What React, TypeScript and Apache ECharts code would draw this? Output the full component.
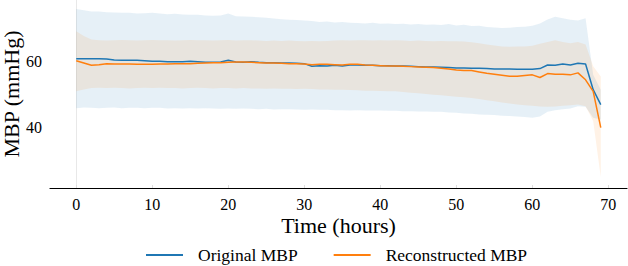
import React, { useEffect, useRef } from "react";
import * as echarts from "echarts";

const hours = [
  0, 1, 2, 3, 4, 5, 6, 7, 8, 9, 10, 11, 12, 13, 14, 15, 16, 17, 18, 19, 20, 21, 22, 23, 24, 25, 26, 27, 28, 29,
  30, 31, 32, 33, 34, 35, 36, 37, 38, 39, 40, 41, 42, 43, 44, 45, 46, 47, 48, 49, 50, 51, 52, 53, 54, 55, 56, 57,
  58, 59, 60, 61, 62, 63, 64, 65, 66, 67, 68, 69,
];

const origMean = [
  60.9, 60.9, 60.9, 60.9, 60.8, 60.5, 60.4, 60.4, 60.4, 60.3,
  60.1, 60.1, 60.0, 60.0, 60.0, 60.1, 60.0, 59.8, 59.8, 59.9,
  60.4, 59.9, 59.8, 60.0, 59.8, 59.7, 59.7, 59.6, 59.6, 59.5,
  59.4, 58.6, 58.8, 58.7, 58.9, 58.7, 59.0, 59.0, 58.9, 58.9,
  58.8, 58.8, 58.7, 58.7, 58.6, 58.5, 58.4, 58.4, 58.3, 58.2,
  58.1, 58.1, 58.0, 58.0, 57.9, 57.8, 57.8, 57.8, 57.7, 57.7,
  57.7, 57.9, 59.0, 58.9, 59.3, 59.0, 59.5, 59.3, 51.5, 47.0,
];

const reconMean = [
  60.3, 59.6, 58.9, 59.1, 59.4, 59.3, 59.3, 59.3, 59.2, 59.2,
  59.2, 59.3, 59.3, 59.4, 59.4, 59.4, 59.5, 59.6, 59.7, 59.7,
  59.8, 59.9, 59.9, 59.8, 59.7, 59.6, 59.6, 59.5, 59.4, 59.4,
  59.3, 59.1, 59.2, 59.2, 59.1, 59.0, 59.2, 59.2, 59.0, 58.9,
  58.8, 58.7, 58.7, 58.6, 58.5, 58.4, 58.3, 58.2, 58.0, 57.8,
  57.5, 57.3, 57.3, 56.9, 56.5, 56.2, 55.9, 55.6, 55.6, 55.8,
  56.0, 55.2, 56.4, 56.2, 56.2, 56.0, 56.6, 54.5, 51.0, 40.0,
];

const origUpper = [
  76.0, 75.6, 75.2, 75.2, 75.0, 74.9, 74.8, 74.8, 74.6, 74.7,
  74.8, 74.6, 74.4, 74.5, 74.3, 74.2, 74.2, 74.0, 73.9, 74.0,
  74.6, 73.8, 73.7, 73.6, 73.5, 73.3, 73.1, 72.9, 72.7, 72.6,
  72.5, 72.3, 72.0, 72.2, 71.9, 72.0, 71.8, 71.7, 71.6, 71.8,
  71.5, 71.6, 71.4, 71.5, 71.3, 71.4, 71.2, 71.3, 71.1, 71.4,
  71.0, 71.2, 70.8, 70.9, 70.5, 70.4, 70.2, 70.3, 70.5, 70.6,
  70.9, 71.6, 72.8, 73.6, 73.2, 72.7, 72.5, 73.2, 56.0, 51.5,
];

const origLower = [
  45.9, 46.1, 46.0, 45.9, 46.0, 46.1, 45.9, 46.0, 46.0, 45.9,
  46.0, 46.0, 45.8, 45.9, 45.8, 45.9, 45.8, 45.9, 45.8, 45.7,
  45.8, 45.7, 45.8, 45.7, 45.6, 45.7, 45.5, 45.6, 45.6, 45.5,
  45.4, 45.5, 45.4, 45.4, 45.3, 45.3, 45.2, 45.3, 45.2, 45.2,
  45.2, 45.1, 45.1, 45.0, 45.0, 44.9, 44.9, 44.8, 44.8, 44.6,
  44.5, 44.3, 44.2, 44.0, 43.9, 43.8, 43.6, 43.5, 43.4, 43.2,
  43.0, 43.4, 44.8, 45.3, 45.6, 45.8, 46.5, 46.3, 43.0, 42.5,
];

const reconUpper = [
  69.2, 67.8, 66.7, 66.5, 66.4, 66.5, 66.6, 66.5, 66.4, 66.5,
  66.6, 66.5, 66.5, 66.4, 66.5, 66.6, 66.5, 66.5, 66.4, 66.5,
  66.6, 66.4, 66.5, 66.5, 66.4, 66.3, 66.4, 66.3, 66.4, 66.3,
  66.2, 66.3, 66.2, 66.3, 66.4, 66.5, 66.4, 66.5, 66.5, 66.4,
  66.5, 66.4, 66.5, 66.4, 66.3, 66.4, 66.3, 66.2, 66.3, 66.2,
  66.2, 66.1, 65.9, 65.6, 65.2, 64.9, 64.6, 64.5, 64.6, 64.6,
  64.8, 65.4, 66.0, 66.5, 66.0, 65.6, 66.0, 65.2, 58.6, 55.5,
];

const reconLower = [
  51.0, 51.6, 52.0, 52.1, 52.0, 52.1, 52.0, 51.9, 52.0, 52.1,
  52.0, 52.1, 52.0, 52.0, 51.9, 52.0, 52.1, 52.0, 51.9, 52.0,
  52.0, 51.9, 52.0, 51.9, 51.9, 51.8, 51.9, 51.8, 51.8, 51.7,
  51.8, 51.7, 51.6, 51.6, 51.5, 51.5, 51.4, 51.3, 51.2, 51.2,
  51.1, 51.0, 51.0, 50.8, 50.6, 50.4, 50.2, 50.0, 49.8, 49.6,
  49.4, 49.2, 49.0, 48.7, 48.3, 48.0, 47.6, 47.3, 47.0, 46.8,
  46.6, 46.4, 46.3, 46.4, 46.6, 46.8, 47.0, 46.5, 42.0, 25.0,
];

const xTicks = [0, 10, 20, 30, 40, 50, 60, 70];
const yTicks = [40, 60];

const seriesNames = ["Original MBP", "Reconstructed MBP"];
const FONT = "Liberation Serif";
const BLUE = "#1f77b4";
const ORANGE = "#ff7f0e";

const tickLabelStyle = {
  color: "#000",
  fontSize: 16,
  fontFamily: FONT,
  margin: 8,
};

function bandSeries(upper: number[], lower: number[], fill: string) {
  return {
    type: "custom",
    silent: true,
    z: 1,
    data: [[hours[0], upper[0]]],
    renderItem: (params: any, api: any) => {
      const pts: number[][] = [];
      for (let i = 0; i < hours.length; i++) pts.push(api.coord([hours[i], upper[i]]));
      for (let i = hours.length - 1; i >= 0; i--) pts.push(api.coord([hours[i], lower[i]]));
      return { type: "polygon", shape: { points: pts }, style: { fill } };
    },
  };
}

export default function App() {
  const ref = useRef<HTMLDivElement>(null);
  useEffect(() => {
    if (!ref.current) return;
    const chart = echarts.init(ref.current, null, { renderer: "svg" });
    chart.setOption({
      animation: false,
      backgroundColor: "#fff",
      textStyle: { fontFamily: FONT },
      grid: { left: 50, right: 1, top: 0, bottom: 78, containLabel: false, outerBoundsMode: "none" },
      xAxis: {
        type: "value",
        min: -3.45,
        max: 72.45,
        splitLine: { show: false },
        axisLine: { show: true, lineStyle: { color: "#000", width: 1.2 } },
        axisTick: { show: true, inside: true, length: 3, lineStyle: { color: "#dddddd" }, customValues: xTicks },
        axisLabel: { ...tickLabelStyle, customValues: xTicks },
        name: "Time (hours)",
        nameLocation: "middle",
        nameGap: 26,
        nameMoveOverlap: false,
        nameTextStyle: { fontSize: 22, fontFamily: FONT, color: "#000" },
      },
      yAxis: {
        type: "value",
        min: 21.7,
        max: 78.7,
        splitLine: { show: false },
        axisLine: { show: true, lineStyle: { color: "#e8e8e8", width: 1 } },
        axisTick: { show: false },
        axisLabel: { ...tickLabelStyle, customValues: yTicks },
        name: "MBP (mmHg)",
        nameLocation: "middle",
        nameGap: 28,
        nameMoveOverlap: false,
        nameTextStyle: { fontSize: 22, fontFamily: FONT, color: "#000" },
      },
      legend: {
        data: seriesNames,
        left: 146,
        top: 246,
        padding: 0,
        itemWidth: 37,
        itemHeight: 14,
        itemGap: 36,
        icon: "path://M0,6 L37,6 L37,8 L0,8 Z",
        textStyle: { fontSize: 17.5, fontFamily: FONT, color: "#000", padding: [0, 0, 0, 10] },
      },
      series: [
        bandSeries(origUpper, origLower, "rgba(31,119,180,0.11)"),
        bandSeries(reconUpper, reconLower, "rgba(255,127,14,0.10)"),
        {
          name: seriesNames[0],
          type: "line",
          z: 3,
          symbol: "none",
          data: hours.map((h, i) => [h, origMean[i]]),
          lineStyle: { color: BLUE, width: 1.5 },
          itemStyle: { color: BLUE },
        },
        {
          name: seriesNames[1],
          type: "line",
          z: 4,
          symbol: "none",
          data: hours.map((h, i) => [h, reconMean[i]]),
          lineStyle: { color: ORANGE, width: 1.5 },
          itemStyle: { color: ORANGE },
        },
      ],
    });
    return () => chart.dispose();
  }, []);
  return <div ref={ref} style={{ position: "fixed", left: 0, top: 0, width: 628, height: 266 }} />;
}
